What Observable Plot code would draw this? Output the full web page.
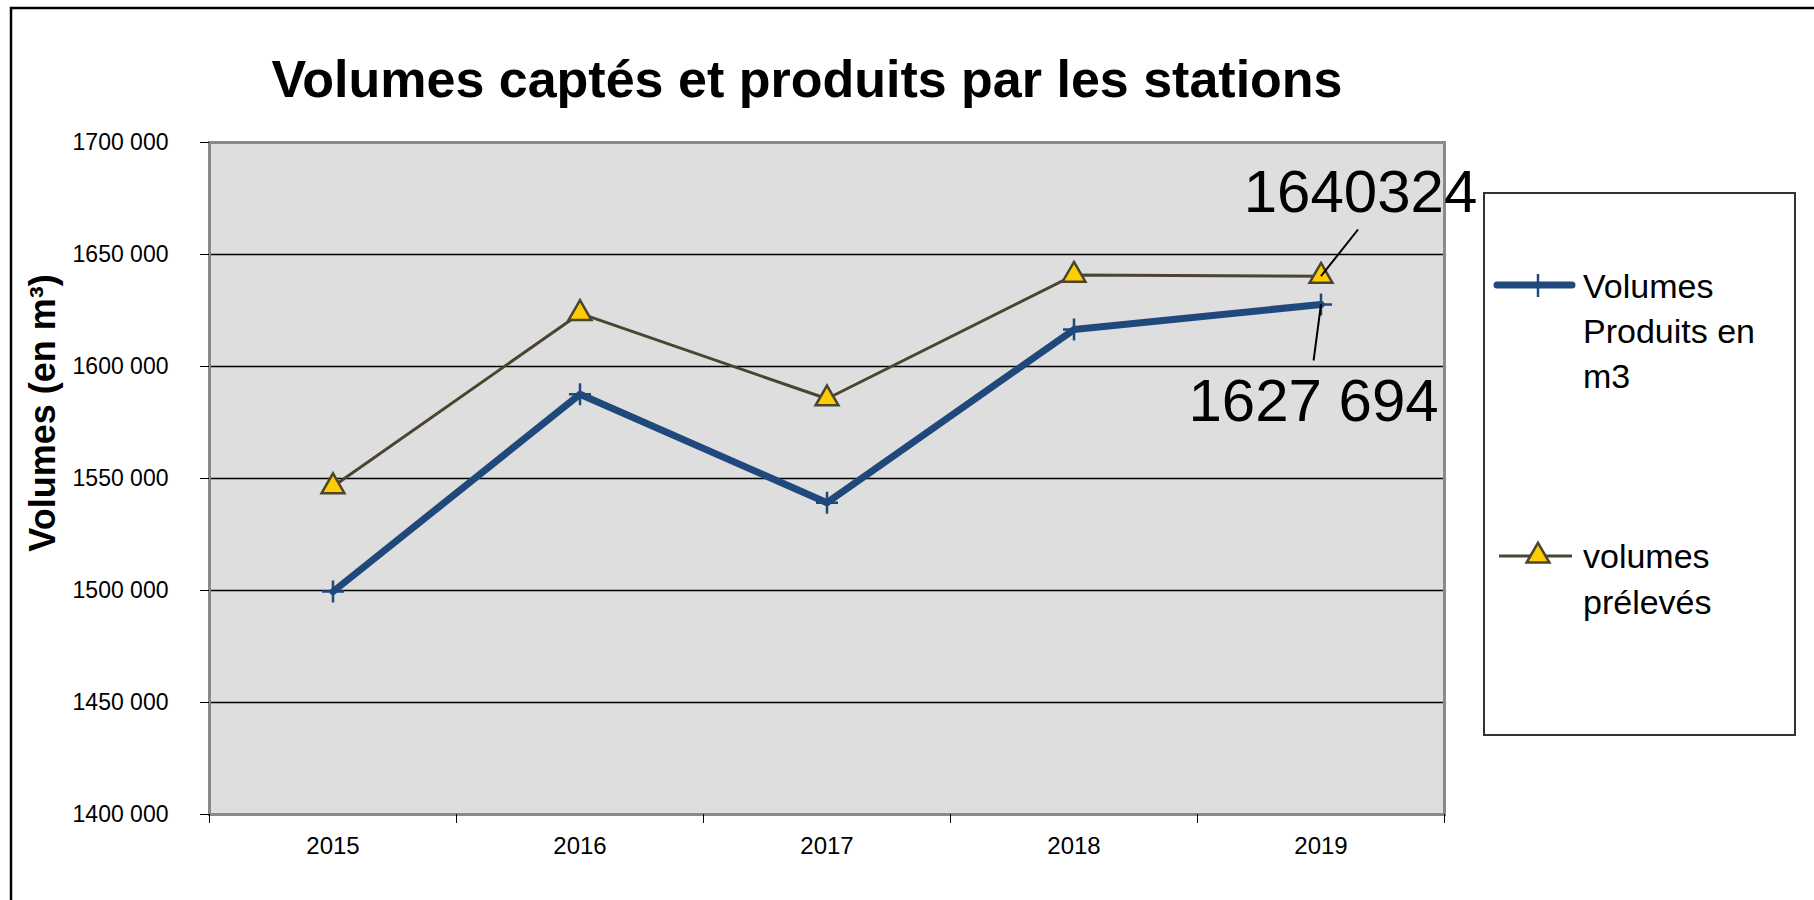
<!DOCTYPE html>
<html><head><meta charset="utf-8">
<script src="https://cdn.jsdelivr.net/npm/d3@7"></script>
<script src="https://cdn.jsdelivr.net/npm/@observablehq/plot@0.6"></script>
<style>
body{margin:0;background:#fff;}
#wrap{position:relative;width:1814px;height:900px;overflow:hidden;background:#fff;}
#wrap svg{position:absolute;left:0;top:0;}
</style>
</head><body>
<div id="wrap"></div>
<script>
// ---- data ----
const years = [2015, 2016, 2017, 2018, 2019];
const produits = [1499500, 1587600, 1539200, 1616500, 1627694];
const preleves = [1546400, 1623700, 1585600, 1640800, 1640324];
const yTicks = [1400000, 1450000, 1500000, 1550000, 1600000, 1650000, 1700000];
const xBounds = [2014.5, 2015.5, 2016.5, 2017.5, 2018.5, 2019.5];
const seriesNames = ["Volumes Produits en m3", "volumes prélevés"];
const legendLines1 = ["Volumes", "Produits en", "m3"];
const legendLines2 = ["volumes", "prélevés"];
const title = "Volumes captés et produits par les stations";
const yTitle = "Volumes (en m³)";
const annotText = ["1640324", "1627 694"];
const annotYear = [2019, 2019];
const annotValue = [1640324, 1627694];
const annotEndYear = [2019.15, 2018.97];
const annotEndValue = [1661160, 1602680];
const annotLabelYear = [2019.16, 2018.97];
const annotLabelValue = [1677680, 1584160];

const FONT = "'Liberation Sans', Arial, sans-serif";
const BLUE = "#1f497d", OLIVE = "#4b4530", GOLD = "#ffcc00";

const rows = years.map((y, i) => ({year: y, produits: produits[i], preleves: preleves[i]}));
const annots = annotText.map((t, i) => ({text: t, x1: annotYear[i], y1: annotValue[i], x2: annotEndYear[i], y2: annotEndValue[i], lx: annotLabelYear[i], ly: annotLabelValue[i]}));
const fmt = d => `${Math.floor(d / 1000)} ${String(d % 1000).padStart(3, "0")}`;

const crossSymbol = {
  draw(ctx, size) {
    const r = Math.sqrt(size / Math.PI);
    ctx.moveTo(-r, 0); ctx.lineTo(r, 0);
    ctx.moveTo(0, -r); ctx.lineTo(0, r);
  }
};

const chart = Plot.plot({
  width: 1814, height: 900,
  marginLeft: 209, marginRight: 370, marginTop: 142, marginBottom: 86,
  x: {type: "linear", domain: [2014.5, 2019.5]},
  y: {domain: [1400000, 1700000]},
  style: {fontFamily: FONT, background: "transparent", color: "#000"},
  marks: [
    Plot.frame({fill: "#dedede"}),
    Plot.ruleY(yTicks.slice(1, -1), {stroke: "#000", strokeWidth: 1.3}),
    Plot.frame({stroke: "#8a8a8a", strokeWidth: 3}),
    Plot.axisY(yTicks, {tickSize: 9, tickPadding: 32, fontSize: 23, tickFormat: fmt, label: null, stroke: "#000"}),
    Plot.axisX(xBounds, {tickSize: 9, tickFormat: () => "", label: null, stroke: "#000"}),
    Plot.axisX(years, {tickSize: 0, tickPadding: 22, fontSize: 24, tickFormat: d => String(d), label: null}),
    Plot.line(rows, {x: "year", y: "preleves", stroke: OLIVE, strokeWidth: 3}),
    Plot.line(rows, {x: "year", y: "produits", stroke: BLUE, strokeWidth: 7}),
    Plot.dot(rows, {x: "year", y: "produits", symbol: crossSymbol, r: 11, stroke: BLUE, strokeWidth: 2.5, fill: "none"}),
    Plot.dot(rows, {x: "year", y: "preleves", symbol: "triangle", r: 8.5, fill: GOLD, stroke: OLIVE, strokeWidth: 2.5}),
    Plot.link(annots, {x1: "x1", y1: "y1", x2: "x2", y2: "y2", stroke: "#000", strokeWidth: 2}),
    Plot.text(annots, {x: "lx", y: "ly", text: "text", fontSize: 60, fill: "#000", textAnchor: "middle"})
  ]
});
const wrap = document.getElementById("wrap");
wrap.appendChild(chart);

// ---- overlay: border, title, axis title, legend ----
const ov = d3.select(wrap).append("svg")
  .attr("width", 1814).attr("height", 900)
  .style("font-family", FONT).style("pointer-events", "none");

ov.append("path").attr("d", "M11,900V8H1814").attr("fill", "none").attr("stroke", "#000").attr("stroke-width", 2.5);

ov.append("text").text(title)
  .attr("x", 807).attr("y", 97).attr("text-anchor", "middle")
  .attr("font-size", 52).attr("font-weight", "bold").attr("fill", "#000");

ov.append("text").text(yTitle)
  .attr("transform", "translate(55,413) rotate(-90)").attr("text-anchor", "middle")
  .attr("font-size", 36).attr("font-weight", "bold").attr("fill", "#000");

const lg = ov.append("g");
lg.append("rect").attr("x", 1484).attr("y", 193).attr("width", 311).attr("height", 542)
  .attr("fill", "#fff").attr("stroke", "#333").attr("stroke-width", 2);
// entry 1
lg.append("line").attr("x1", 1497).attr("x2", 1572).attr("y1", 285).attr("y2", 285)
  .attr("stroke", BLUE).attr("stroke-width", 7).attr("stroke-linecap", "round");
lg.append("line").attr("x1", 1538).attr("x2", 1538).attr("y1", 274).attr("y2", 297)
  .attr("stroke", BLUE).attr("stroke-width", 2.5);
legendLines1.forEach((t, i) => lg.append("text").text(t).attr("x", 1583).attr("y", 298 + i * 45).attr("font-size", 34).attr("fill", "#000"));
// entry 2
lg.append("line").attr("x1", 1499).attr("x2", 1572).attr("y1", 556).attr("y2", 556)
  .attr("stroke", OLIVE).attr("stroke-width", 3);
lg.append("path").attr("d", d3.symbol(d3.symbolTriangle, 8.5 * 8.5 * Math.PI)()).attr("transform", "translate(1538,556)")
  .attr("fill", GOLD).attr("stroke", OLIVE).attr("stroke-width", 2.5);
legendLines2.forEach((t, i) => lg.append("text").text(t).attr("x", 1583).attr("y", 568 + i * 46).attr("font-size", 34).attr("fill", "#000"));
</script>
</body></html>
